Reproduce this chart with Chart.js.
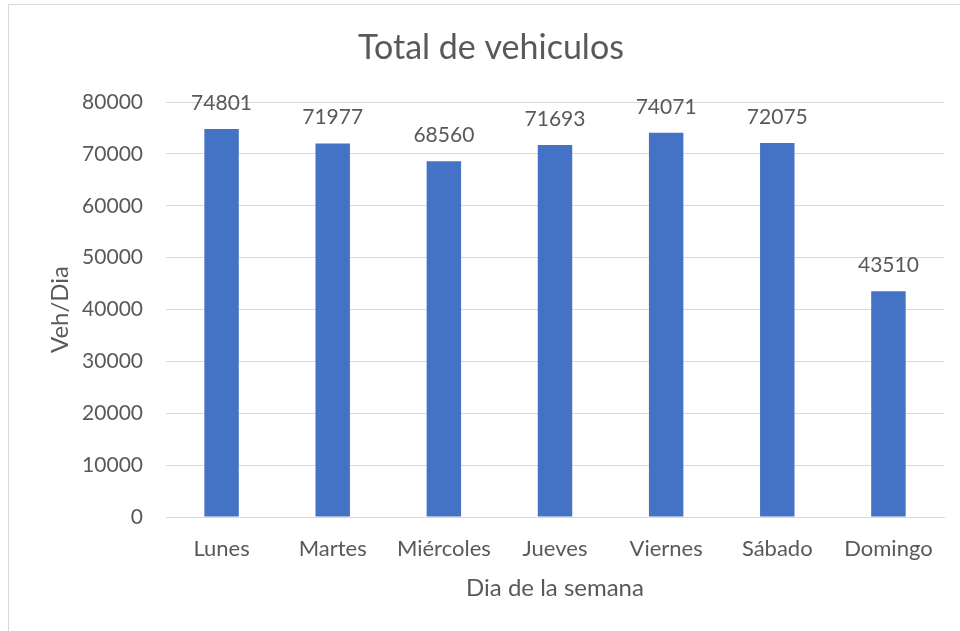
<!DOCTYPE html>
<html><head><meta charset="utf-8">
<script src="https://cdn.jsdelivr.net/npm/chart.js@4.4.0/dist/chart.umd.min.js"></script>
<style>html,body{margin:0;padding:0;background:#fff;}#wrap{width:960px;height:631px;position:relative;}</style>
</head><body><div id="wrap"><canvas id="c" width="960" height="631"></canvas></div>
<script>
const categories = ["Lunes","Martes","Miércoles","Jueves","Viernes","Sábado","Domingo"];
const vehiculos = [74801, 71977, 68560, 71693, 74071, 72075, 43510];
const chartTitle = "Total de vehiculos";
const xTitle = "Dia de la semana";
const yTitle = "Veh/Dia";

const FONT = "Lato, 'Open Sans', sans-serif";
const TXT = "#595959";

const decor = {
  id: "decor",
  beforeDraw(chart) {
    const ctx = chart.ctx;
    ctx.save();
    ctx.strokeStyle = "#d9d9d9";
    ctx.lineWidth = 1;
    ctx.strokeRect(8.5, 4.5, 1000, 1000);
    ctx.restore();
  },
  afterDatasetsDraw(chart) {
    const ctx = chart.ctx;
    ctx.save();
    ctx.fillStyle = TXT;
    ctx.textAlign = "center";
    ctx.textBaseline = "middle";
    ctx.font = "34px " + FONT;
    ctx.fillText(chartTitle, 491, 48);
    ctx.font = "21px " + FONT;
    const meta = chart.getDatasetMeta(0);
    meta.data.forEach((bar, i) => {
      ctx.fillText(String(chart.data.datasets[0].data[i]), bar.x, bar.y - 26);
    });
    ctx.restore();
  }
};

new Chart(document.getElementById("c"), {
  type: "bar",
  data: {
    labels: categories,
    datasets: [{
      data: vehiculos,
      backgroundColor: "#4472C4",
      borderWidth: 0,
      categoryPercentage: 1,
      barPercentage: 0.31
    }]
  },
  options: {
    responsive: false,
    animation: false,
    layout: { padding: { left: 0, right: 16, top: 102, bottom: 0 } },
    plugins: { legend: { display: false }, title: { display: false }, tooltip: { enabled: false } },
    scales: {
      x: {
        grid: { display: false, drawTicks: false },
        border: { display: true, color: "#d9d9d9", width: 1 },
        ticks: { color: TXT, font: { family: FONT, size: 22 }, padding: 19, maxRotation: 0, autoSkip: false },
        title: { display: true, text: xTitle, color: TXT, font: { family: FONT, size: 24 }, padding: { top: 0, bottom: 28 } },
        afterFit(s) { s.height = 114; }
      },
      y: {
        min: 0, max: 80000,
        grid: { color: "#d9d9d9", drawTicks: false },
        border: { display: false },
        ticks: { stepSize: 10000, color: TXT, font: { family: FONT, size: 21 }, padding: 23, callback: v => String(v) },
        title: { display: true, text: yTitle, color: TXT, font: { family: FONT, size: 24 }, padding: { top: 46, bottom: 0 } },
        afterFit(s) { s.width = 166; }
      }
    }
  },
  plugins: [decor]
});
</script></body></html>
